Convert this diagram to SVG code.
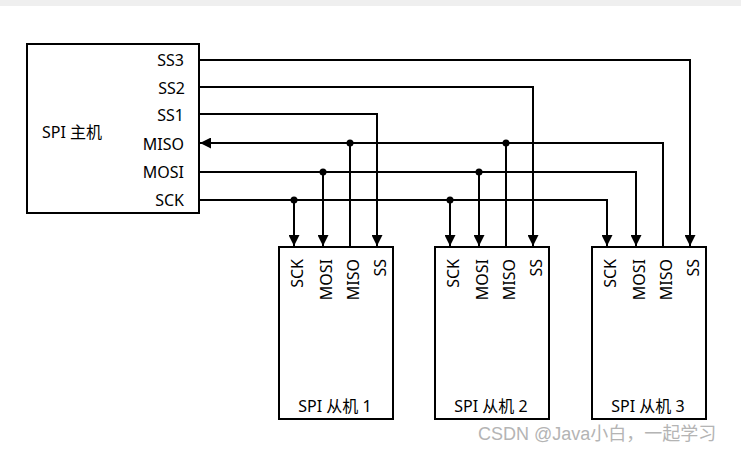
<svg xmlns="http://www.w3.org/2000/svg" width="741" height="452" viewBox="0 0 741 452">
<style>
.b{fill:#fff;stroke:#000;stroke-width:2}
.w{fill:none;stroke:#000;stroke-width:2}
text{font-family:"Noto Sans","Noto Sans CJK SC",sans-serif;font-size:16px;fill:#000}
.r{text-anchor:end}
.v{text-anchor:end}
</style>
<defs><marker id="ah" viewBox="0 0 10 10" refX="10" refY="5" markerWidth="11" markerHeight="11" orient="auto" markerUnits="userSpaceOnUse"><path d="M0,0L10,5L0,10z"/></marker></defs>
<rect x="0" y="0" width="741" height="6" fill="#efefef"/>
<g id="master"><rect class="b" x="27" y="44" width="172" height="169"/>
<text x="42" y="138">SPI 主机</text>
<text class="r" x="184" y="66">SS3</text><text class="r" x="185" y="94">SS2</text><text class="r" x="184" y="121">SS1</text>
<text class="r" x="184" y="150">MISO</text><text class="r" x="184" y="178">MOSI</text><text class="r" x="184" y="206">SCK</text></g>
<g id="slave1"><rect class="b" x="279" y="247" width="114" height="172"/>
<text x="335" y="412" text-anchor="middle">SPI 从机 1</text>
<g class="v"><text transform="translate(303,259) rotate(-90)">SCK</text><text transform="translate(332,259) rotate(-90)">MOSI</text><text transform="translate(359,259) rotate(-90)">MISO</text><text transform="translate(386,259) rotate(-90)">SS</text></g></g>
<g id="slave2"><rect class="b" x="435" y="247" width="114" height="172"/>
<text x="491" y="412" text-anchor="middle">SPI 从机 2</text>
<g class="v"><text transform="translate(459,259) rotate(-90)">SCK</text><text transform="translate(488,259) rotate(-90)">MOSI</text><text transform="translate(515,259) rotate(-90)">MISO</text><text transform="translate(542,259) rotate(-90)">SS</text></g></g>
<g id="slave3"><rect class="b" x="592" y="247" width="114" height="172"/>
<text x="648" y="412" text-anchor="middle">SPI 从机 3</text>
<g class="v"><text transform="translate(616,259) rotate(-90)">SCK</text><text transform="translate(645,259) rotate(-90)">MOSI</text><text transform="translate(672,259) rotate(-90)">MISO</text><text transform="translate(699,259) rotate(-90)">SS</text></g></g>
<g id="connectors" class="w">
<path class="w" d="M199,60H690V246" marker-end="url(#ah)"/>
<path class="w" d="M199,87H533V246" marker-end="url(#ah)"/>
<path class="w" d="M199,114H377V246" marker-end="url(#ah)"/>
<path class="w" d="M663,247V143H200" marker-end="url(#ah)"/>
<path class="w" d="M350,247V143M506,247V143"/>
<path class="w" d="M199,172H636V246" marker-end="url(#ah)"/>
<path class="w" d="M323,172V246" marker-end="url(#ah)"/>
<path class="w" d="M479,172V246" marker-end="url(#ah)"/>
<path class="w" d="M199,200H607V246" marker-end="url(#ah)"/>
<path class="w" d="M294,200V246" marker-end="url(#ah)"/>
<path class="w" d="M450,200V246" marker-end="url(#ah)"/>
<g fill="#000" stroke="none"><circle cx="350" cy="143" r="3.5"/><circle cx="506" cy="143" r="3.5"/><circle cx="323" cy="172" r="3.5"/><circle cx="479" cy="172" r="3.5"/><circle cx="294" cy="200" r="3.5"/><circle cx="450" cy="200" r="3.5"/></g>
</g>
<text x="478" y="440" style="fill:#b4b4b4;font-size:18px;font-family:'Liberation Sans','Noto Sans CJK SC',sans-serif">CSDN @Java小白，一起学习</text>
</svg>
